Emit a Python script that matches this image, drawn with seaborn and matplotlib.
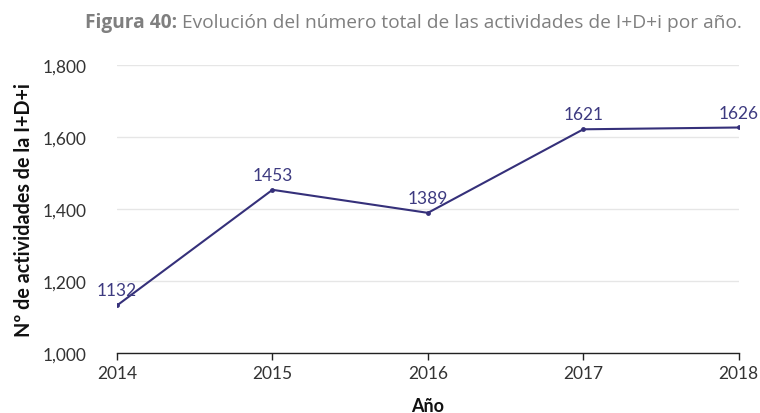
import matplotlib
matplotlib.use("Agg")
import matplotlib.pyplot as plt
import seaborn as sns
import pandas as pd
from matplotlib.ticker import FuncFormatter

years = [2014, 2015, 2016, 2017, 2018]
activities = [1132, 1453, 1389, 1621, 1626]
yticks = [1000, 1200, 1400, 1600, 1800]

df = pd.DataFrame({"Año": years, "Actividades": activities})

sns.set_theme(style="white")
plt.rcParams['font.family'] = ['Lato', 'DejaVu Sans']

fig = plt.figure(figsize=(7.6, 4.14), dpi=100)
ax = fig.add_axes([0.154, 0.145, 0.818, 0.696])

line_color = "#35307a"
sns.lineplot(data=df, x="Año", y="Actividades", ax=ax, color=line_color,
             linewidth=1.5, marker="o", markersize=3.5, markeredgewidth=0)

for x, y in zip(years, activities):
    ax.annotate(str(y), (x, y), xytext=(0, 5), textcoords="offset points",
                ha="center", va="bottom", fontsize=12.5, color="#3d3a80")

ax.set_xlim(2014, 2018)
ax.set_ylim(1000, 1800)
ax.set_xticks(years)
ax.set_yticks(yticks)
ax.yaxis.set_major_formatter(FuncFormatter(lambda v, p: f"{int(v):,}"))
ax.grid(axis="y", color="#e6e6e6", linewidth=1)
ax.set_axisbelow(True)
for s in ["top", "right", "left"]:
    ax.spines[s].set_visible(False)
ax.spines["bottom"].set_color("#222222")
ax.spines["bottom"].set_linewidth(1)
ax.tick_params(axis="x", which="major", bottom=True, length=5, width=1,
               color="#222222", labelsize=12.5, labelcolor="#333333", pad=4)
ax.tick_params(axis="y", left=False, labelsize=12.5, labelcolor="#333333", pad=16)

ax.set_xlabel("Año", fontsize=13, fontweight="bold", color="#111111", labelpad=11)
ax.set_ylabel("Nº de actividades de la I+D+i", fontsize=14.2, fontweight="bold",
              color="#111111", labelpad=6)

t1 = fig.text(0.112, 0.945, "Figura 40:", fontsize=13.8, fontweight="bold",
              color="#7f7f7f", ha="left", va="center", family=["Open Sans", "DejaVu Sans"])
fig.canvas.draw()
bb = t1.get_window_extent()
x2 = (bb.x1 + 5) / fig.bbox.width
fig.text(x2, 0.945, "Evolución del número total de las actividades de I+D+i por año.",
         fontsize=13.8, color="#7f7f7f", ha="left", va="center",
         family=["Open Sans", "DejaVu Sans"])

fig.savefig("out.png", dpi=100)
